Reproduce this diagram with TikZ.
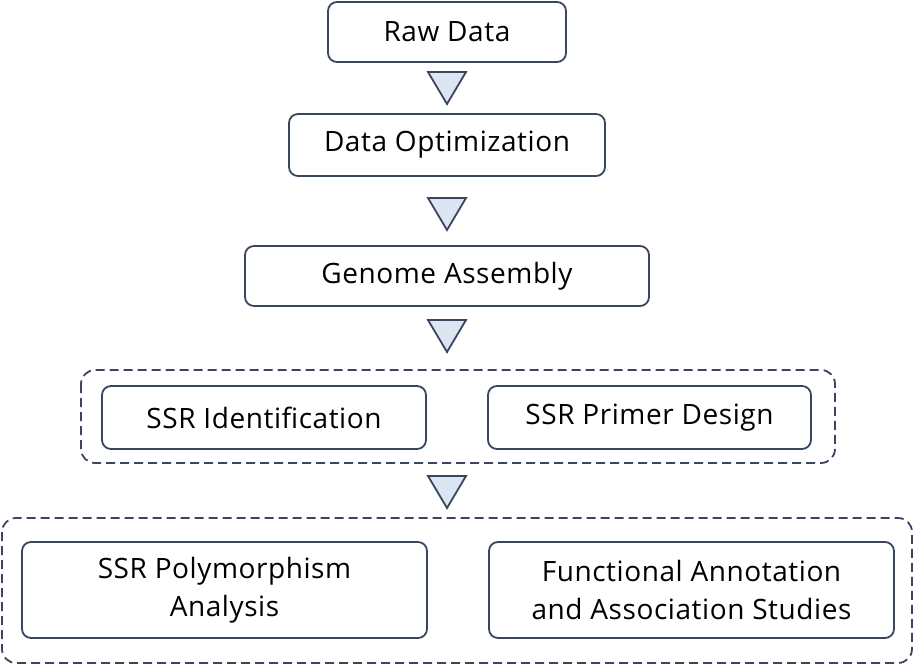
\documentclass[tikz,border=0pt]{standalone}
\usepackage{fontspec}
\setmainfont{Open Sans}[LetterSpace=2]
\begin{document}
\begin{tikzpicture}[x=1pt,y=-1pt,
box/.style={draw=edge,line width=1.8pt,rounded corners=9pt,fill=white,align=center,font=\fontsize{28}{38}\selectfont},
grp/.style={draw=edge,line width=1.8pt,rounded corners=14pt,dash pattern=on 9pt off 5pt},
tri/.style={draw=edge,line width=1.8pt,fill=tri,line join=miter}]
\definecolor{edge}{HTML}{3A4660}
\definecolor{tri}{HTML}{DCE6F2}
\useasboundingbox (0,0) rectangle (914,665);
\draw[grp] (81,370) rectangle (835,463);
\draw[grp] (2,518) rectangle (912,663);
\newcommand\bx[6]{\node[box,minimum width=#4-#2,minimum height=#5-#3] (#1) at ({(#2+#4)/2},{(#3+#5)/2}) {#6};}
\bx{raw}{328}{2}{566}{62}{Raw Data}
\bx{opt}{289}{114}{605}{176}{Data Optimization}
\bx{gen}{245}{246}{649}{306}{Genome Assembly}
\bx{ssri}{102}{386}{426}{449}{SSR Identification}
\bx{ssrp}{488}{386}{811}{449}{SSR Primer Design}
\bx{poly}{22}{542}{427}{638}{SSR Polymorphism\\Analysis}
\bx{fun}{489}{542}{894}{638}{Functional Annotation\\and Association Studies}
\foreach \y in {72,198,320,476}{
\draw[tri] (428,\y) -- (466,\y) -- (447,\y+32) -- cycle;}
\end{tikzpicture}
\end{document}
